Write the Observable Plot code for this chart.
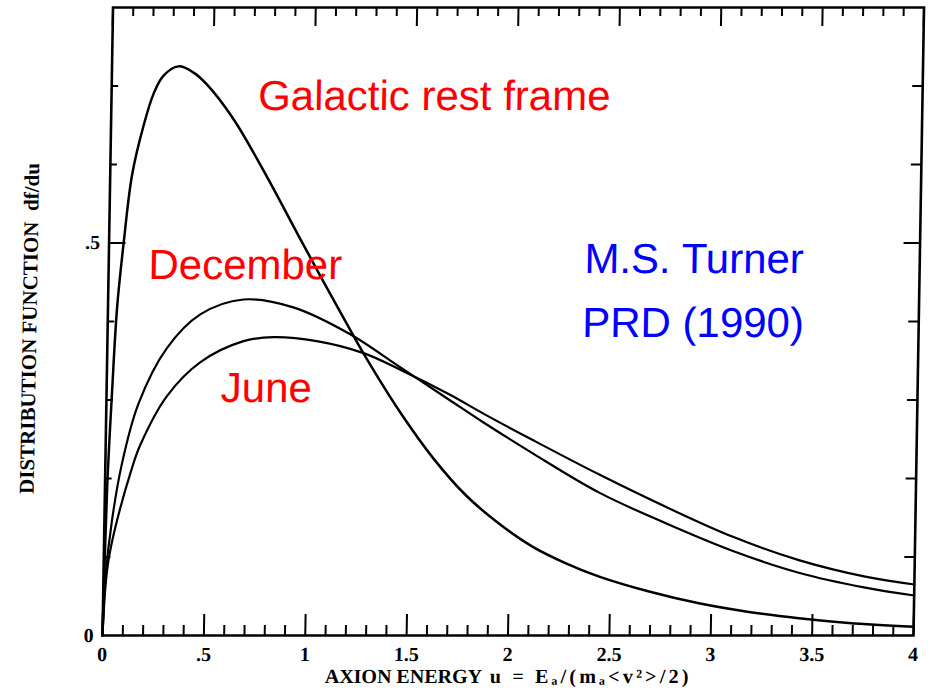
<!DOCTYPE html>
<html>
<head>
<meta charset="utf-8">
<script src="https://cdn.jsdelivr.net/npm/d3@7"></script>
<script src="https://cdn.jsdelivr.net/npm/@observablehq/plot@0.6"></script>
<style>
  html, body { margin: 0; padding: 0; background: #fff; }
  #chart svg { display: block; }
</style>
</head>
<body>
<div id="chart"></div>
<script>
// ---- Data (u = axion energy, f = df/du) ----
const galacticU = [0, 0.011, 0.027, 0.045, 0.073, 0.108, 0.161, 0.207, 0.254, 0.328, 0.403, 0.469, 0.603, 0.772, 0.941, 1.071, 1.195, 1.279, 1.448, 1.616, 1.783, 1.949, 2.115, 2.280, 2.445, 2.692, 2.939, 3.186, 3.433, 3.679, 4.0];
const galacticF = [0, 0.19, 0.31, 0.418, 0.503, 0.587, 0.650, 0.690, 0.713, 0.725, 0.717, 0.702, 0.658, 0.585, 0.506, 0.446, 0.390, 0.353, 0.285, 0.226, 0.178, 0.142, 0.113, 0.092, 0.075, 0.056, 0.041, 0.030, 0.022, 0.016, 0.011];

const decemberU = [0, 0.010, 0.037, 0.081, 0.158, 0.294, 0.456, 0.667, 0.914, 1.195, 1.444, 1.692, 1.858, 2.107, 2.438, 2.769, 3.099, 3.429, 3.758, 4.0];
const decemberF = [0, 0.075, 0.146, 0.218, 0.295, 0.366, 0.409, 0.428, 0.418, 0.384, 0.342, 0.300, 0.272, 0.232, 0.182, 0.143, 0.108, 0.080, 0.061, 0.051];

const juneU = [0, 0.010, 0.023, 0.052, 0.130, 0.171, 0.298, 0.459, 0.671, 0.818, 1.032, 1.261, 1.444, 1.692, 1.858, 2.106, 2.437, 2.767, 3.098, 3.428, 3.757, 4.0];
const juneF = [0, 0.060, 0.095, 0.135, 0.212, 0.243, 0.305, 0.348, 0.375, 0.380, 0.375, 0.360, 0.339, 0.307, 0.283, 0.249, 0.205, 0.164, 0.126, 0.096, 0.075, 0.065];

// ---- Ticks ----
const xMajorTicks = [0, 0.5, 1, 1.5, 2, 2.5, 3, 3.5, 4];
const xTickLabels = ["0", ".5", "1", "1.5", "2", "2.5", "3", "3.5", "4"];
const xMinorTicks = d3.range(1, 40).filter(i => i % 5 !== 0).map(i => i / 10);
const yMajorTicks = [0, 0.5];
const yTickLabels = ["0", ".5"];
const yMinorTicks = [0.1, 0.2, 0.3, 0.4, 0.6, 0.7];

// ---- Text ----
const yTitle = "DISTRIBUTION FUNCTION\u00a0\u00a0df/du";
const xTitleA = "AXION ENERGY";
const xTitleB = "u\u00a0=\u00a0E\u2090/(m\u2090<v\u00b2>/2)";
const curveLabels = ["Galactic rest frame", "December", "June"];
const curveLabelU = [0.723, 0.196, 0.563];
const curveLabelF = [0.686, 0.471, 0.315];
const creditLabels = ["M.S. Turner", "PRD (1990)"];
const creditU = [2.887, 2.887];
const creditF = [0.479, 0.397];

// ---- Build tables ----
const series = [
  ...galacticU.map((u, i) => ({series: "Galactic rest frame", u, f: galacticF[i]})),
  ...decemberU.map((u, i) => ({series: "December", u, f: decemberF[i]})),
  ...juneU.map((u, i) => ({series: "June", u, f: juneF[i]}))
];
const curveLabelData = curveLabels.map((t, i) => ({t, u: curveLabelU[i], f: curveLabelF[i]}));
const creditData = creditLabels.map((t, i) => ({t, u: creditU[i], f: creditF[i]}));

const W = 937, H = 691;
const mL = 102, mR = 24, mT = 7, mB = 56;
const plotW = W - mL - mR, plotH = H - mT - mB;
const serif = "'Liberation Serif', 'Times New Roman', serif";
const sans = "'Liberation Sans', Arial, sans-serif";

const chart = Plot.plot({
  width: W, height: H,
  marginLeft: mL, marginRight: mR, marginTop: mT, marginBottom: mB,
  x: {domain: [0, 4], axis: null},
  y: {domain: [0, 0.8], axis: null},
  style: {background: "#fff", color: "#000"},
  marks: [
    // tick marks (inward) on all four sides
    Plot.ruleX(xMinorTicks, {x: d => d, insetTop: plotH - 10, stroke: "#000", strokeWidth: 2}),
    Plot.ruleX(xMajorTicks, {x: d => d, insetTop: plotH - 21, stroke: "#000", strokeWidth: 2}),
    Plot.ruleX(xMinorTicks, {x: d => d, insetBottom: plotH - 9, stroke: "#000", strokeWidth: 2}),
    Plot.ruleX(xMajorTicks, {x: d => d, insetBottom: plotH - 19, stroke: "#000", strokeWidth: 2}),
    Plot.ruleY(yMinorTicks, {y: d => d, insetRight: plotW - 7, stroke: "#000", strokeWidth: 2}),
    Plot.ruleY([0.5], {y: d => d, insetRight: plotW - 17, stroke: "#000", strokeWidth: 2}),
    Plot.ruleY(yMinorTicks, {y: d => d, insetLeft: plotW - 10, stroke: "#000", strokeWidth: 2}),
    Plot.ruleY([0.5], {y: d => d, insetLeft: plotW - 16, stroke: "#000", strokeWidth: 2}),
    Plot.frame({stroke: "#000", strokeWidth: 2.6}),
    // tick labels
    Plot.axisX({ticks: xMajorTicks, tickSize: 0, tickPadding: 11, label: null,
      tickFormat: d => xTickLabels[xMajorTicks.indexOf(d)],
      fontSize: 20, fontWeight: "bold", fontFamily: serif, fill: "#000"}),
    Plot.axisY({ticks: yMajorTicks, tickSize: 0, tickPadding: 9, label: null,
      tickFormat: d => yTickLabels[yMajorTicks.indexOf(d)],
      fontSize: 20, fontWeight: "bold", fontFamily: serif, fill: "#000"}),
    // axis titles
    Plot.text([yTitle], {text: d => d, frameAnchor: "left", textAnchor: "middle", rotate: -90, dx: -78, dy: 7,
      fontSize: 21, fontWeight: "bold", fontFamily: serif, fill: "#000"}),
    Plot.text([xTitleA], {text: d => d, frameAnchor: "bottom-left", textAnchor: "start", dx: 223, dy: 47,
      fontSize: 20, fontWeight: "bold", fontFamily: serif, fill: "#000"}),
    Plot.text([xTitleB], {text: d => d, frameAnchor: "bottom-left", textAnchor: "start", dx: 388, dy: 47,
      fontSize: 20, fontWeight: "bold", fontFamily: serif, fill: "#000"}),
    // curves
    Plot.line(series, {x: "u", y: "f", z: "series", stroke: "#000",
      strokeWidth: d => d.series === "Galactic rest frame" ? 2.5 : 2.2, curve: "catmull-rom"}),
    // annotations
    Plot.text(curveLabelData, {x: "u", y: "f", text: "t", textAnchor: "start",
      fontSize: 42, fontFamily: sans, fill: "#ff0000"}),
    Plot.text(creditData, {x: "u", y: "f", text: "t", textAnchor: "middle",
      fontSize: 42, fontFamily: sans, fill: "#0000ff"})
  ]
});

// the scanned original is slightly sheared (vertical lines lean right toward the top)
chart.style.transform = "skewX(-0.96deg)";
chart.style.transformOrigin = `0px ${H - mB}px`;
chart.querySelectorAll('[aria-label="x-axis tick label"] text, [aria-label="y-axis tick label"] text')
  .forEach(t => t.setAttribute("font-weight", "bold"));
// the formula part of the x title is typeset with wider spacing in the original
chart.querySelectorAll("text").forEach(t => {
  if (t.textContent === xTitleB) t.setAttribute("letter-spacing", "3.2");
});
document.getElementById("chart").appendChild(chart);
</script>
</body>
</html>
